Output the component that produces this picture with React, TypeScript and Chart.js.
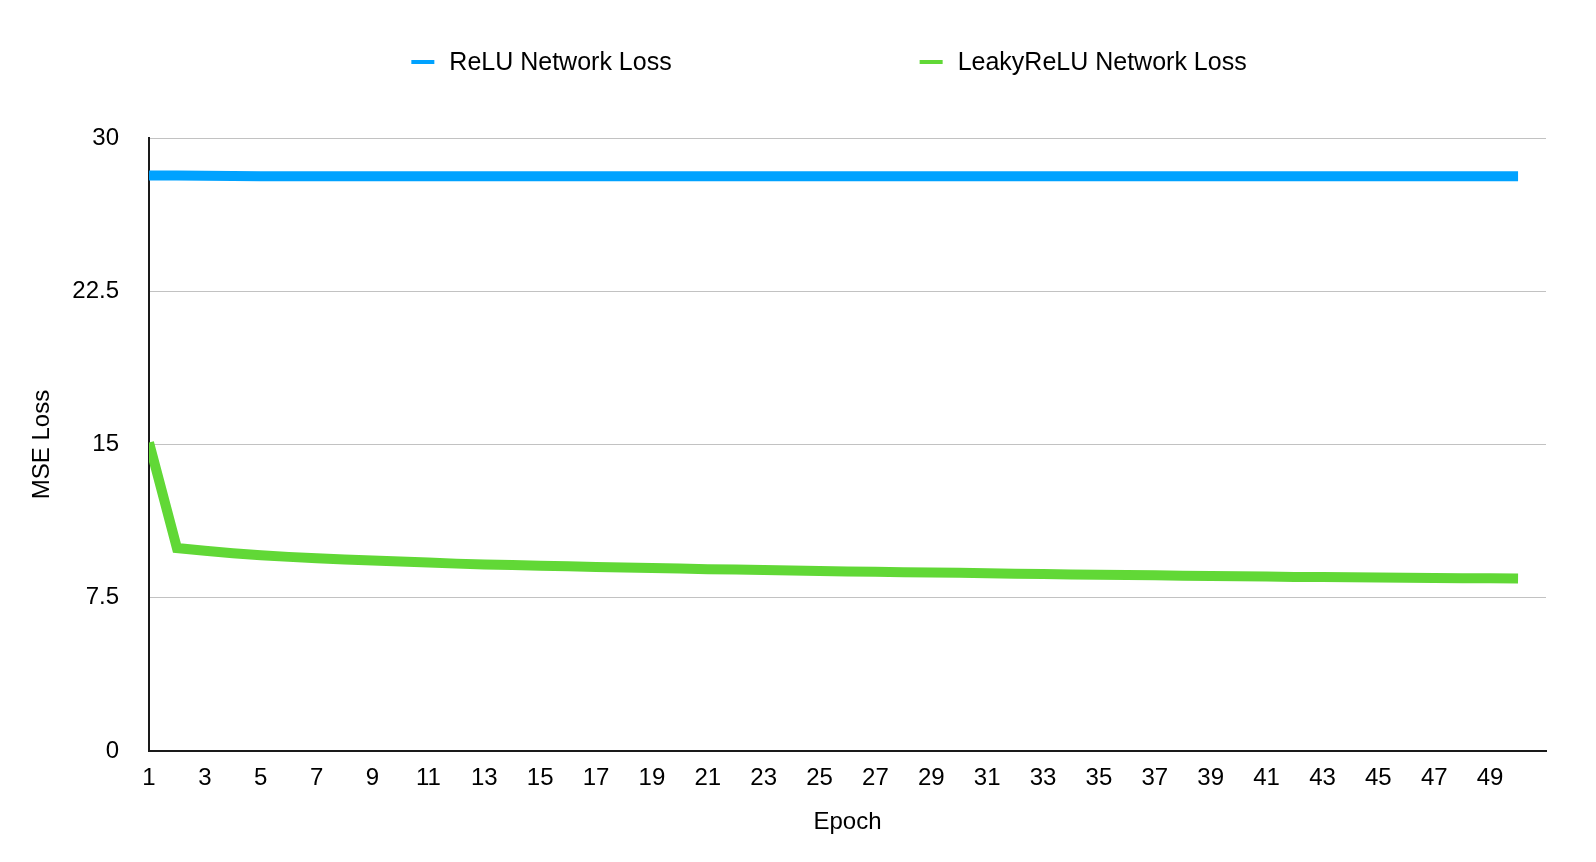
import React, { useEffect, useRef } from 'react';
import { Chart, registerables } from 'chart.js';

Chart.register(...registerables);

const epochs = [
  1, 2, 3, 4, 5, 6, 7, 8, 9, 10,
  11, 12, 13, 14, 15, 16, 17, 18, 19, 20,
  21, 22, 23, 24, 25, 26, 27, 28, 29, 30,
  31, 32, 33, 34, 35, 36, 37, 38, 39, 40,
  41, 42, 43, 44, 45, 46, 47, 48, 49, 50,
];

const reluLoss = [
  28.16, 28.16, 28.15, 28.14, 28.13, 28.13, 28.13, 28.13, 28.13, 28.13,
  28.13, 28.13, 28.13, 28.13, 28.13, 28.13, 28.13, 28.13, 28.13, 28.13,
  28.13, 28.13, 28.13, 28.13, 28.13, 28.13, 28.13, 28.13, 28.13, 28.13,
  28.13, 28.13, 28.13, 28.13, 28.13, 28.13, 28.13, 28.13, 28.13, 28.13,
  28.13, 28.13, 28.13, 28.13, 28.13, 28.13, 28.13, 28.13, 28.13, 28.13,
];

const leakyLoss = [
  15.1, 9.93, 9.8, 9.68, 9.58, 9.5, 9.43, 9.37, 9.32, 9.27,
  9.22, 9.17, 9.13, 9.1, 9.07, 9.04, 9.01, 8.98, 8.95, 8.93,
  8.9, 8.88, 8.86, 8.83, 8.81, 8.79, 8.77, 8.75, 8.73, 8.72,
  8.7, 8.68, 8.66, 8.64, 8.62, 8.61, 8.6, 8.58, 8.57, 8.55,
  8.54, 8.52, 8.51, 8.5, 8.49, 8.48, 8.47, 8.46, 8.45, 8.44,
];

const seriesLabels = ['ReLU Network Loss', 'LeakyReLU Network Loss'];
const seriesColors = ['#00A2FF', '#61D836'];
const yTickValues = [0, 7.5, 15, 22.5, 30];
const xTickValues = [1, 3, 5, 7, 9, 11, 13, 15, 17, 19, 21, 23, 25, 27, 29, 31, 33, 35, 37, 39, 41, 43, 45, 47, 49];
const xAxisTitle = 'Epoch';
const yAxisTitle = 'MSE Loss';

const FONT = '"Liberation Sans", Arial, Helvetica, sans-serif';

const legendPlugin = {
  id: 'customLegend',
  afterDraw(chart: any) {
    const ctx = chart.ctx as CanvasRenderingContext2D;
    ctx.save();
    ctx.font = `25px ${FONT}`;
    const items = chart.data.datasets.map((ds: any) => ({
      label: ds.label as string,
      color: ds.borderColor as string,
      w: ctx.measureText(ds.label).width,
    }));
    const markerW = 23;
    const markerH = 4;
    const textGap = 15;
    const itemGap = 248;
    const total =
      items.reduce((s: number, it: any) => s + markerW + textGap + it.w, 0) +
      itemGap * (items.length - 1);
    let x = 829 - total / 2;
    const y = 62;
    ctx.textBaseline = 'middle';
    ctx.textAlign = 'left';
    items.forEach((it: any) => {
      ctx.fillStyle = it.color;
      ctx.fillRect(x, y - markerH / 2, markerW, markerH);
      ctx.fillStyle = '#000';
      ctx.fillText(it.label, x + markerW + textGap, y + 1);
      x += markerW + textGap + it.w + itemGap;
    });
    ctx.restore();
  },
};

export default function App() {
  const ref = useRef<HTMLCanvasElement>(null);

  useEffect(() => {
    if (!ref.current) return;
    Chart.defaults.font.family = FONT;
    Chart.defaults.color = '#000';
    const series = [reluLoss, leakyLoss];
    const chart = new Chart(ref.current, {
      type: 'line',
      data: {
        datasets: series.map((vals, i) => ({
          label: seriesLabels[i],
          data: epochs.map((e, j) => ({ x: e, y: vals[j] })),
          borderColor: seriesColors[i],
          backgroundColor: seriesColors[i],
          borderWidth: 10,
          pointRadius: 0,
          pointHoverRadius: 0,
          tension: 0,
          borderCapStyle: 'butt',
          borderJoinStyle: 'miter',
          fill: false,
        })),
      },
      options: {
        animation: false,
        responsive: true,
        maintainAspectRatio: false,
        layout: { padding: { top: 138, right: 50, left: 0, bottom: 0 } },
        plugins: {
          legend: { display: false },
          tooltip: { enabled: false },
        },
        scales: {
          x: {
            type: 'linear',
            min: 1,
            max: 51,
            afterBuildTicks: (scale: any) => {
              scale.ticks = xTickValues.map((v) => ({ value: v }));
            },
            afterFit: (scale: any) => {
              scale.height = 111;
            },
            ticks: {
              autoSkip: false,
              maxRotation: 0,
              font: { size: 24 },
              color: '#000',
              padding: 13,
              callback: (v: any) => String(v),
            },
            grid: { display: false, drawTicks: false },
            border: { display: true, color: '#1a1a1a', width: 2 },
            title: {
              display: true,
              text: xAxisTitle,
              font: { size: 24 },
              color: '#000',
              padding: { top: 4, bottom: 25 },
            },
          },
          y: {
            type: 'linear',
            min: 0,
            max: 30,
            afterBuildTicks: (scale: any) => {
              scale.ticks = yTickValues.map((v) => ({ value: v }));
            },
            afterFit: (scale: any) => {
              scale.width = 149;
            },
            ticks: {
              font: { size: 24 },
              color: '#000',
              padding: 30,
              callback: (v: any) => String(v),
            },
            grid: { color: '#c2c2c2', lineWidth: 1, drawTicks: false },
            border: { display: true, color: '#1a1a1a', width: 2 },
            title: {
              display: true,
              text: yAxisTitle,
              font: { size: 24 },
              color: '#000',
              padding: { top: 28, bottom: 4 },
            },
          },
        },
      },
      plugins: [legendPlugin],
    } as any);
    return () => chart.destroy();
  }, []);

  return (
    <div
      style={{
        position: 'absolute',
        left: 0,
        top: 0,
        width: 1596,
        height: 862,
        background: '#fff',
      }}
    >
      <canvas ref={ref} />
    </div>
  );
}
